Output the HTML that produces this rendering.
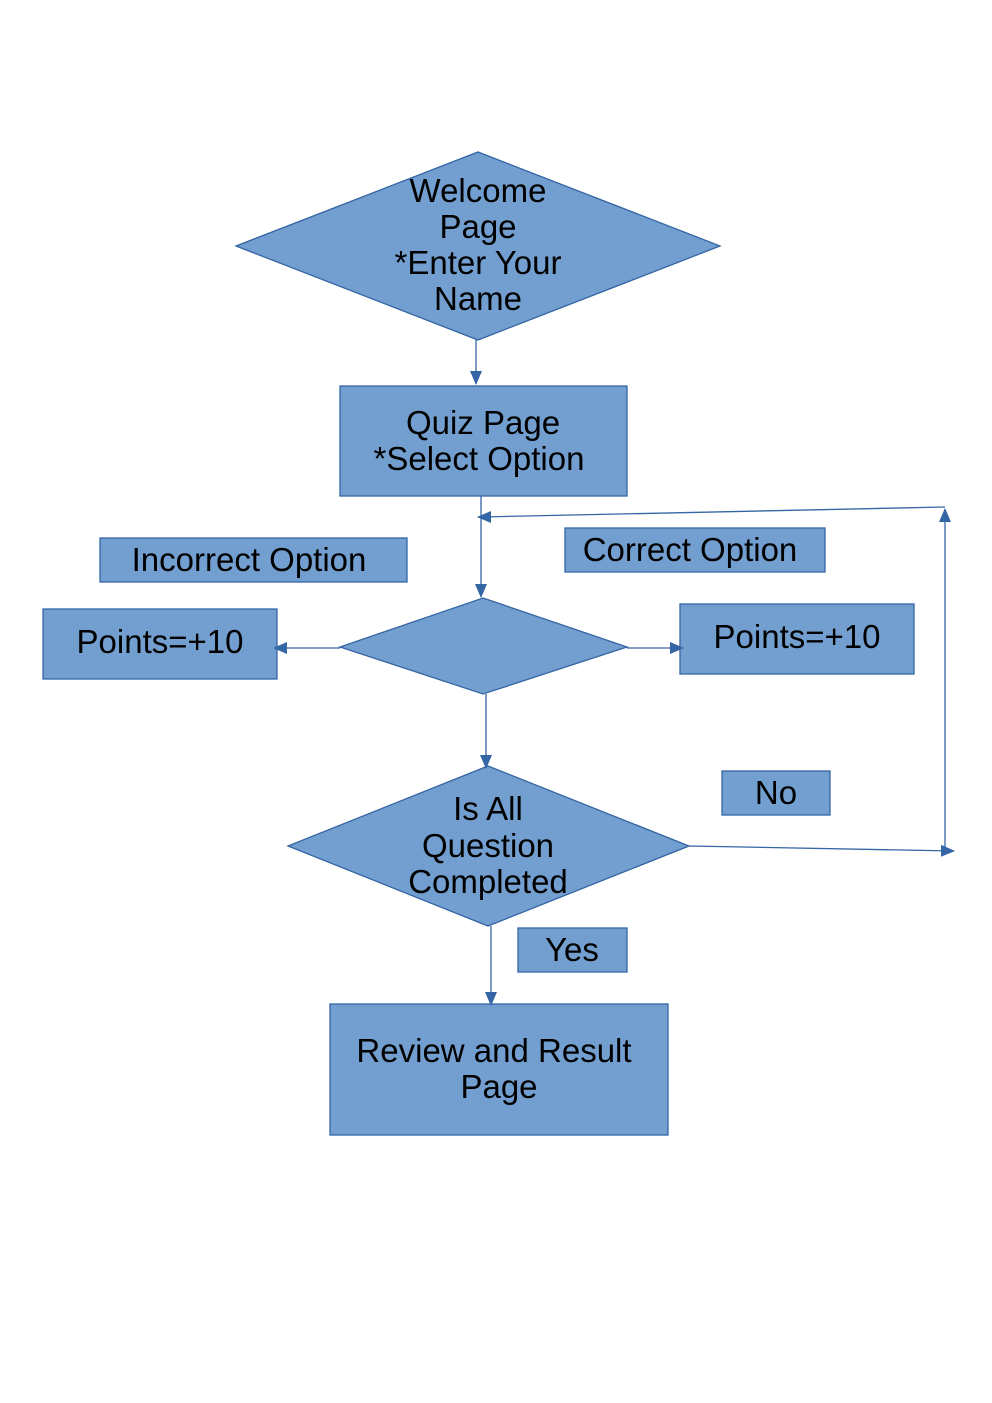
<!DOCTYPE html>
<html><head><meta charset="utf-8"><style>
html,body{margin:0;padding:0;background:#fff}
svg{display:block}
text{font-family:"Liberation Sans",sans-serif;font-size:33px;fill:#000;text-anchor:middle}
</style></head><body>
<svg width="992" height="1403" viewBox="0 0 992 1403" xmlns="http://www.w3.org/2000/svg">
<defs>
<marker id="a" markerWidth="14" markerHeight="12" refX="13" refY="6" orient="auto" markerUnits="userSpaceOnUse">
<path d="M0,0 L14,6 L0,12 z" fill="#3465a4"/></marker>
</defs>
<g fill="#729fcf" stroke="#3465a4" stroke-width="1.3">
<polygon points="478,152 720,246 478,340 236,246"/>
<rect x="340" y="386" width="287" height="110"/>
<rect x="100" y="538" width="307" height="44"/>
<rect x="565" y="528" width="260" height="44"/>
<rect x="43" y="609" width="234" height="70"/>
<polygon points="483,598 627,647 483,694 340,647"/>
<rect x="680" y="604" width="234" height="70"/>
<polygon points="488,766 689,846 488,926 288,846"/>
<rect x="722" y="771" width="108" height="44"/>
<rect x="518" y="928" width="109" height="44"/>
<rect x="330" y="1004" width="338" height="131"/>
</g>
<g stroke="#3465a4" stroke-width="1.3" fill="none">
<line x1="476" y1="340" x2="476" y2="384" marker-end="url(#a)"/>
<line x1="481" y1="496" x2="481" y2="597" marker-end="url(#a)"/>
<polyline points="945,507 480,517" />
<line x1="945" y1="851" x2="945" y2="509" marker-end="url(#a)"/>
<line x1="490" y1="517" x2="478" y2="517" marker-end="url(#a)"/>
<line x1="340" y1="648" x2="274" y2="648" marker-end="url(#a)"/>
<line x1="627" y1="648" x2="683" y2="648" marker-end="url(#a)"/>
<line x1="486" y1="694" x2="486" y2="768" marker-end="url(#a)"/>
<line x1="689" y1="846" x2="954" y2="851" marker-end="url(#a)"/>
<line x1="491" y1="926" x2="491" y2="1005" marker-end="url(#a)"/>
</g>
<text x="478" y="202">Welcome</text>
<text x="478" y="238">Page</text>
<text x="478" y="274">*Enter Your</text>
<text x="478" y="310">Name</text>
<text x="483" y="434">Quiz Page</text>
<text x="479" y="470">*Select Option</text>
<text x="249" y="571">Incorrect Option</text>
<text x="690" y="561">Correct Option</text>
<text x="160" y="653">Points=+10</text>
<text x="797" y="648">Points=+10</text>
<text x="488" y="820">Is All</text>
<text x="488" y="857">Question</text>
<text x="488" y="893">Completed</text>
<text x="776" y="804">No</text>
<text x="572" y="961">Yes</text>
<text x="494" y="1062">Review and Result</text>
<text x="499" y="1098">Page</text>
</svg>
</body></html>
